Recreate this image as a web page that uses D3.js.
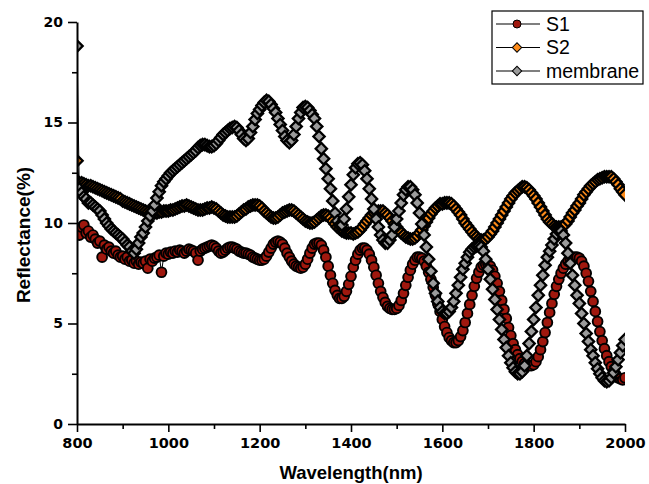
<!DOCTYPE html>
<html>
<head>
<meta charset="utf-8">
<script src="https://cdn.jsdelivr.net/npm/d3@7/dist/d3.min.js"></script>
<style>
  body { margin: 0; background: #fff; }
  svg { display: block; }
</style>
</head>
<body>
<svg id="chart" width="649" height="484"></svg>
<script>
// Reflectance spectra, sampled every 5 nm from 800 to 2000 nm
const wavelengths = d3.range(800, 2001, 5);

const s1 = [
  9.6, 9.4, 9.8, 9.9, 9.5, 9.6, 9.3, 9.4, 9.2, 9.0, 9.1, 8.3, 8.9, 8.7, 8.8, 8.6, 8.5, 8.6, 8.4, 8.3,
  8.35, 8.2, 8.3, 8.1, 8.15, 8.0, 8.1, 7.95, 8.05, 8.0, 8.1, 7.75, 8.2, 8.1, 8.25, 8.3, 8.4, 7.55, 8.35, 8.5,
  8.45, 8.55, 8.5, 8.6, 8.55, 8.65, 8.6, 8.5, 8.6, 8.7, 8.65, 8.6, 8.5, 8.15, 8.6, 8.7, 8.75, 8.8, 8.85, 8.9,
  8.85, 8.75, 8.6, 8.5, 8.55, 8.65, 8.75, 8.8, 8.8, 8.75, 8.7, 8.6, 8.55, 8.5, 8.5, 8.45, 8.4, 8.3, 8.25, 8.2,
  8.15, 8.15, 8.2, 8.35, 8.55, 8.75, 8.95, 9.05, 9.1, 9.05, 8.95, 8.75, 8.5, 8.3, 8.1, 7.95, 7.85, 7.8, 7.75, 7.8,
  7.95, 8.2, 8.5, 8.75, 8.95, 9.0, 9.0, 8.9, 8.65, 8.3, 7.85, 7.4, 7.0, 6.65, 6.4, 6.25, 6.25, 6.35, 6.6, 6.95,
  7.35, 7.8, 8.15, 8.45, 8.65, 8.75, 8.75, 8.65, 8.45, 8.15, 7.8, 7.4, 7.0, 6.6, 6.3, 6.05, 5.85, 5.75, 5.7, 5.7,
  5.75, 5.9, 6.15, 6.5, 6.9, 7.3, 7.65, 7.95, 8.15, 8.3, 8.3, 8.25, 8.1, 7.85, 7.55, 7.2, 6.8, 6.4, 6.0, 5.6,
  5.2, 4.85, 4.55, 4.3, 4.15, 4.05, 4.05, 4.15, 4.35, 4.65, 5.05, 5.5, 5.95, 6.4, 6.85, 7.25, 7.55, 7.8, 7.9, 7.95,
  7.95, 7.85, 7.65, 7.35, 7.0, 6.6, 6.15, 5.7, 5.25, 4.8, 4.4, 4.0, 3.7, 3.45, 3.25, 3.1, 3.0, 2.9, 2.9, 2.9,
  2.95, 3.1, 3.35, 3.7, 4.1, 4.55, 5.05, 5.55, 6.0, 6.45, 6.85, 7.2, 7.5, 7.75, 7.95, 8.1, 8.2, 8.25, 8.3, 8.3,
  8.25, 8.1, 7.85, 7.5, 7.1, 6.6, 6.1, 5.6, 5.1, 4.6, 4.15, 3.75, 3.4, 3.1, 2.85, 2.6, 2.45, 2.3, 2.25, 2.2,
  2.3
];

const s2 = [
  13.1, 12.0, 12.0, 11.95, 11.9, 11.85, 11.85, 11.8, 11.75, 11.7, 11.65, 11.6, 11.55, 11.5, 11.45, 11.4, 11.35, 11.3, 11.25, 11.2,
  11.1, 11.05, 11.0, 10.95, 10.9, 10.85, 10.8, 10.75, 10.7, 10.65, 10.6, 10.55, 10.5, 10.5, 10.5, 10.5, 10.55, 10.55, 10.6, 10.6,
  10.6, 10.65, 10.65, 10.7, 10.75, 10.8, 10.85, 10.85, 10.9, 10.85, 10.8, 10.75, 10.7, 10.65, 10.65, 10.65, 10.7, 10.75, 10.75, 10.8,
  10.75, 10.7, 10.6, 10.5, 10.4, 10.35, 10.3, 10.3, 10.3, 10.3, 10.35, 10.45, 10.55, 10.65, 10.7, 10.8, 10.85, 10.9, 10.9, 10.9,
  10.85, 10.75, 10.6, 10.5, 10.4, 10.3, 10.25, 10.25, 10.3, 10.4, 10.5, 10.55, 10.6, 10.65, 10.65, 10.6, 10.5, 10.4, 10.3, 10.2,
  10.1, 10.05, 10.0, 10.0, 10.05, 10.15, 10.25, 10.35, 10.4, 10.4, 10.35, 10.25, 10.1, 9.95, 9.8, 9.7, 9.6, 9.55, 9.5, 9.5,
  9.5, 9.45, 9.5, 9.55, 9.65, 9.8, 9.95, 10.1, 10.25, 10.4, 10.5, 10.55, 10.6, 10.6, 10.6, 10.5, 10.4, 10.25, 10.1, 9.95,
  9.8, 9.65, 9.5, 9.4, 9.3, 9.25, 9.2, 9.2, 9.25, 9.35, 9.5, 9.65, 9.85, 10.05, 10.25, 10.45, 10.6, 10.75, 10.85, 10.95,
  10.95, 11.0, 11.0, 11.0, 10.95, 10.85, 10.7, 10.55, 10.4, 10.2, 10.0, 9.85, 9.7, 9.55, 9.4, 9.3, 9.2, 9.15, 9.15, 9.2,
  9.3, 9.45, 9.6, 9.8, 10.0, 10.2, 10.4, 10.6, 10.8, 11.0, 11.2, 11.35, 11.5, 11.6, 11.7, 11.8, 11.8, 11.75, 11.65, 11.5,
  11.35, 11.2, 11.0, 10.8, 10.6, 10.4, 10.2, 10.05, 9.95, 9.85, 9.8, 9.8, 9.8, 9.85, 9.95, 10.1, 10.3, 10.5, 10.65, 10.85,
  11.0, 11.2, 11.4, 11.55, 11.7, 11.85, 11.95, 12.05, 12.15, 12.2, 12.25, 12.3, 12.3, 12.3, 12.3, 12.2, 12.05, 11.9, 11.7, 11.55,
  11.4
];

const membrane = [
  18.8, 11.7, 11.5, 11.3, 11.2, 11.0, 11.0, 10.9, 10.8, 10.7, 10.6, 10.4, 10.2, 10.0, 9.85, 9.7, 9.6, 9.5, 9.4, 9.3,
  9.2, 9.05, 8.9, 8.8, 8.6, 8.5, 8.7, 9.0, 9.3, 9.5, 9.8, 10.1, 10.35, 10.6, 10.9, 11.25, 11.55, 11.85, 12.05, 12.2,
  12.35, 12.5, 12.6, 12.7, 12.8, 12.9, 13.0, 13.1, 13.2, 13.3, 13.4, 13.5, 13.6, 13.75, 13.85, 13.9, 13.9, 13.85, 13.8, 13.8,
  13.85, 13.95, 14.1, 14.25, 14.4, 14.5, 14.6, 14.7, 14.75, 14.8, 14.75, 14.6, 14.4, 14.2, 14.1, 14.2, 14.5, 14.8, 15.15, 15.45,
  15.65, 15.85, 16.0, 16.1, 16.05, 15.9, 15.7, 15.5, 15.2, 14.9, 14.6, 14.3, 14.1, 14.0, 14.1, 14.4, 14.8, 15.2, 15.5, 15.75,
  15.8, 15.75, 15.6, 15.4, 15.2, 14.8, 14.3, 13.7, 13.2, 12.7, 12.2, 11.7, 11.1, 10.5, 10.1, 9.9, 9.9, 10.2, 10.7, 11.3,
  11.9, 12.4, 12.75, 12.95, 13.0, 12.9, 12.6, 12.2, 11.7, 11.2, 10.7, 10.2, 9.8, 9.4, 9.15, 9.0, 9.0, 9.15, 9.4, 9.8,
  10.2, 10.6, 11.0, 11.4, 11.65, 11.8, 11.8, 11.65, 11.4, 11.0, 10.5, 9.95, 9.4, 8.8, 8.2, 7.6, 7.0, 6.5, 6.1, 5.8,
  5.6, 5.5, 5.5, 5.6, 5.8, 6.1, 6.5, 6.9, 7.3, 7.7, 8.0, 8.3, 8.55, 8.7, 8.8, 8.85, 8.85, 8.8, 8.6, 8.2,
  7.7, 7.2, 6.7, 6.2, 5.7, 5.2, 4.7, 4.2, 3.8, 3.4, 3.05, 2.8, 2.6, 2.5, 2.5, 2.6, 2.9, 3.4, 4.0, 4.6,
  5.2, 5.8, 6.4, 6.9, 7.4, 7.9, 8.3, 8.6, 8.9, 9.2, 9.45, 9.6, 9.6, 9.4, 9.0, 8.5, 8.0, 7.4, 6.9, 6.4,
  6.0, 5.5, 5.0, 4.5, 4.1, 3.7, 3.4, 3.05, 2.75, 2.5, 2.3, 2.15, 2.1, 2.15, 2.3, 2.55, 2.85, 3.2, 3.55, 3.9,
  4.2
];

const seriesNames = ["S1", "S2", "membrane"];
const xTicks = [800, 1000, 1200, 1400, 1600, 1800, 2000];
const xMinorTicks = [900, 1100, 1300, 1500, 1700, 1900];
const yTicks = [0, 5, 10, 15, 20];
const yMinorTicks = [2.5, 7.5, 12.5, 17.5];

const series = [
  { name: seriesNames[0], values: s1, shape: "circle", fill: "#a0180e" },
  { name: seriesNames[1], values: s2, shape: "diamond", fill: "#ff8c1a" },
  { name: seriesNames[2], values: membrane, shape: "diamond", fill: "#9b9b9b" }
];

const svg = d3.select("#chart");
const plot = { left: 77, right: 625, top: 22, bottom: 424 };

const x = d3.scaleLinear().domain([800, 2000]).range([plot.left, plot.right]);
const y = d3.scaleLinear().domain([0, 20]).range([plot.bottom, plot.top]);

svg.append("defs").append("clipPath").attr("id", "plot-clip")
  .append("rect")
  .attr("x", plot.left).attr("y", 0)
  .attr("width", plot.right - plot.left).attr("height", plot.bottom);

const diamond = d3.symbol().type(d3.symbolSquare).size(64)();
const legendDiamond = d3.symbol().type(d3.symbolSquare).size(44)();

// data series: connecting line first, then the markers on top
const dataLayer = svg.append("g").attr("clip-path", "url(#plot-clip)");
series.forEach(s => {
  const pts = wavelengths.map((w, i) => ({ w, v: s.values[i] }));
  const g = dataLayer.append("g");
  g.append("path")
    .datum(pts)
    .attr("fill", "none")
    .attr("stroke", "#000")
    .attr("stroke-width", 1)
    .attr("d", d3.line().x(d => x(d.w)).y(d => y(d.v)));
  if (s.shape === "circle") {
    g.selectAll("circle").data(pts).join("circle")
      .attr("cx", d => x(d.w)).attr("cy", d => y(d.v))
      .attr("r", 4.9)
      .attr("fill", s.fill).attr("stroke", "#000").attr("stroke-width", 1.9);
  } else {
    g.selectAll("path.m").data(pts).join("path")
      .attr("class", "m")
      .attr("d", diamond)
      .attr("transform", d => `translate(${x(d.w)},${y(d.v)}) rotate(45)`)
      .attr("fill", s.fill).attr("stroke", "#000").attr("stroke-width", 2.3);
  }
});

// axes
const tickFont = "'DejaVu Sans', Verdana, sans-serif";
const xAxis = svg.append("g").attr("transform", `translate(0,${plot.bottom})`)
  .call(d3.axisBottom(x).tickValues(xTicks).tickSize(8).tickSizeOuter(0).tickPadding(6)
    .tickFormat(d3.format("d")));
svg.append("g").attr("transform", `translate(0,${plot.bottom})`)
  .call(d3.axisBottom(x).tickValues(xMinorTicks).tickSize(5).tickSizeOuter(0).tickFormat(""))
  .select(".domain").remove();

const yAxis = svg.append("g").attr("transform", `translate(${plot.left},0)`)
  .call(d3.axisLeft(y).tickValues(yTicks).tickSize(9).tickSizeOuter(0).tickPadding(5));
svg.append("g").attr("transform", `translate(${plot.left},0)`)
  .call(d3.axisLeft(y).tickValues(yMinorTicks).tickSize(5).tickSizeOuter(0).tickFormat(""))
  .select(".domain").remove();

svg.selectAll(".domain").attr("stroke", "#000").attr("stroke-width", 2);
svg.selectAll(".tick line").attr("stroke", "#000").attr("stroke-width", 1.6);
xAxis.selectAll(".tick text")
  .attr("font-family", tickFont).attr("font-weight", "bold").attr("font-size", 14.5).attr("fill", "#000");
yAxis.selectAll(".tick text")
  .attr("font-family", tickFont).attr("font-weight", "bold").attr("font-size", 14).attr("fill", "#000");

// axis titles
const titleFont = "'Liberation Sans', Arial, sans-serif";
svg.append("text")
  .attr("x", 351).attr("y", 479)
  .attr("text-anchor", "middle")
  .attr("font-family", titleFont).attr("font-weight", "bold").attr("font-size", 18.5)
  .text("Wavelength(nm)");
svg.append("text")
  .attr("transform", "translate(30,235) rotate(-90)")
  .attr("text-anchor", "middle")
  .attr("font-family", titleFont).attr("font-weight", "bold").attr("font-size", 19)
  .text("Reflectance(%)");

// legend
const legend = svg.append("g");
legend.append("rect")
  .attr("x", 492).attr("y", 11).attr("width", 151).attr("height", 73)
  .attr("fill", "#fff").attr("stroke", "#000").attr("stroke-width", 1.2);
const rowY = d3.scalePoint().domain(seriesNames).range([24, 71]);
series.forEach(s => {
  const cy = rowY(s.name);
  legend.append("line")
    .attr("x1", 496).attr("x2", 540).attr("y1", cy).attr("y2", cy)
    .attr("stroke", "#000").attr("stroke-width", 1.2);
  if (s.shape === "circle") {
    legend.append("circle").attr("cx", 517).attr("cy", cy).attr("r", 4)
      .attr("fill", s.fill).attr("stroke", "#000").attr("stroke-width", 1);
  } else {
    legend.append("path").attr("d", legendDiamond)
      .attr("transform", `translate(517,${cy}) rotate(45)`)
      .attr("fill", s.fill).attr("stroke", "#000").attr("stroke-width", 1);
  }
  legend.append("text")
    .attr("x", 546).attr("y", cy + 6.5)
    .attr("font-family", titleFont).attr("font-size", 19.5)
    .text(s.name);
});
</script>
</body>
</html>
